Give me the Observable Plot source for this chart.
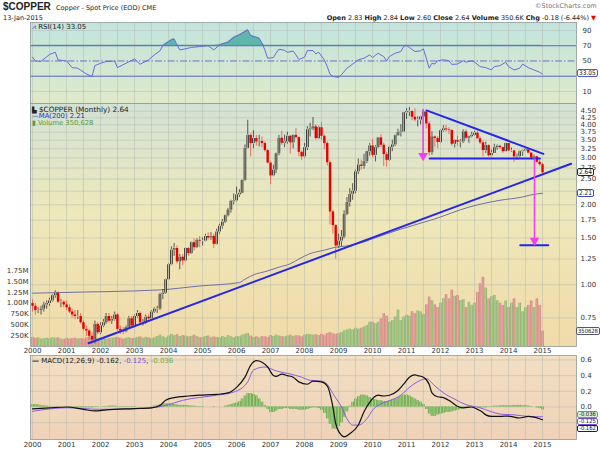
<!DOCTYPE html>
<html><head><meta charset="utf-8">
<script src="https://cdn.jsdelivr.net/npm/d3@7"></script>
<script src="https://cdn.jsdelivr.net/npm/@observablehq/plot@0.6"></script>
<style>
body{margin:0;background:#fff;}
#wrap{position:relative;width:600px;height:450px;overflow:hidden;font-family:"DejaVu Sans",sans-serif;font-size:7px;color:#222;}
#wrap svg.plotlayer{position:absolute;left:0;}
.txt{position:absolute;white-space:nowrap;line-height:1;}
.box{position:absolute;left:577px;font:6.5px "DejaVu Sans Condensed","DejaVu Sans",sans-serif;padding:0 1px;border:1px solid #444;background:#fff;border-radius:2px;line-height:6px;white-space:nowrap;}
</style></head>
<body>
<svg width="0" height="0" style="position:absolute">
<defs>
<linearGradient id="gRsi" x1="0" y1="0" x2="0" y2="1"><stop offset="0" stop-color="#c2e4de"/><stop offset="1" stop-color="#e0eac9"/></linearGradient>
<linearGradient id="gMain" x1="0" y1="0" x2="0" y2="1"><stop offset="0" stop-color="#d3e2d6"/><stop offset="0.45" stop-color="#eee8ba"/><stop offset="1" stop-color="#f1daa9"/></linearGradient>
<linearGradient id="gMacd" x1="0" y1="0" x2="0" y2="1"><stop offset="0" stop-color="#f2dfc3"/><stop offset="1" stop-color="#efd2b8"/></linearGradient>
</defs></svg>
<div id="wrap"></div>
<script>
// ---------- data (monthly, Jan 2000 .. Jan 2015) ----------
const firstOpen = 0.85;
const closes = [
 0.83,0.80,0.80,0.81,0.84,0.85,0.87,0.91,0.93,0.86,0.86,0.84,
 0.82,0.79,0.77,0.76,0.76,0.72,0.68,0.67,0.64,0.62,0.71,0.66,
 0.70,0.72,0.76,0.73,0.74,0.77,0.68,0.67,0.665,0.69,0.745,0.70,
 0.76,0.78,0.72,0.72,0.755,0.745,0.79,0.81,0.81,0.92,0.93,1.045,
 1.19,1.35,1.37,1.22,1.27,1.23,1.37,1.31,1.44,1.38,1.47,1.46,
 1.46,1.52,1.50,1.52,1.42,1.58,1.66,1.72,1.82,1.91,2.06,2.07,
 2.18,2.21,2.47,3.26,3.65,3.40,3.55,3.45,3.46,3.40,3.20,2.87,
 2.57,2.70,3.11,3.56,3.41,3.45,3.62,3.42,3.65,3.58,3.15,3.03,
 3.28,3.83,3.86,3.93,3.55,3.90,3.62,3.40,2.88,1.88,1.67,1.40,
 1.46,1.51,1.84,2.04,2.19,2.25,2.66,2.82,2.79,2.91,3.17,3.33,
 3.07,3.28,3.57,3.35,3.09,2.94,3.29,3.36,3.64,3.74,3.76,4.44,
 4.48,4.49,4.27,4.17,4.17,4.28,4.47,4.03,3.14,3.60,3.55,3.43,
 3.80,3.86,3.83,3.81,3.38,3.49,3.44,3.45,3.76,3.56,3.61,3.65,
 3.72,3.54,3.42,3.20,3.34,3.06,3.12,3.28,3.32,3.28,3.17,3.40,
 3.19,3.19,3.03,3.04,3.17,3.19,3.22,3.13,3.00,3.03,2.89,2.83,
 2.64];
const highs = [
 0.88,0.85,0.82,0.83,0.86,0.87,0.89,0.92,0.95,0.94,0.88,0.87,
 0.87,0.84,0.81,0.80,0.80,0.78,0.73,0.70,0.68,0.66,0.73,0.72,
 0.72,0.74,0.78,0.78,0.76,0.79,0.78,0.70,0.69,0.70,0.76,0.76,
 0.77,0.80,0.79,0.74,0.77,0.77,0.80,0.82,0.83,0.93,0.96,1.05,
 1.20,1.39,1.43,1.40,1.30,1.30,1.38,1.38,1.45,1.49,1.49,1.52,
 1.50,1.55,1.57,1.57,1.55,1.62,1.69,1.76,1.83,1.94,2.08,2.20,
 2.33,2.28,2.48,3.36,4.16,3.70,3.80,3.65,3.65,3.60,3.45,3.22,
 2.90,2.82,3.13,3.65,3.78,3.66,3.75,3.65,3.66,3.87,3.60,3.19,
 3.40,3.94,4.05,4.26,4.00,3.95,4.08,3.66,3.45,2.92,1.90,1.68,
 1.55,1.60,1.90,2.13,2.30,2.40,2.70,2.97,2.95,3.10,3.18,3.40,
 3.53,3.34,3.58,3.67,3.41,3.15,3.32,3.50,3.66,3.85,4.00,4.45,
 4.60,4.65,4.50,4.59,4.29,4.31,4.55,4.52,4.10,3.76,3.63,3.61,
 3.83,3.97,3.98,3.90,3.82,3.52,3.62,3.52,3.83,3.83,3.62,3.75,
 3.78,3.77,3.60,3.48,3.44,3.36,3.21,3.38,3.36,3.35,3.30,3.41,
 3.40,3.27,3.21,3.10,3.19,3.21,3.26,3.24,3.14,3.08,3.05,2.95,
 2.86];
const lows = [
 0.79,0.77,0.78,0.77,0.79,0.81,0.83,0.86,0.89,0.85,0.82,0.82,
 0.80,0.78,0.75,0.74,0.74,0.71,0.67,0.64,0.62,0.60,0.60,0.65,
 0.65,0.69,0.71,0.72,0.71,0.73,0.67,0.65,0.65,0.66,0.68,0.69,
 0.69,0.75,0.71,0.70,0.71,0.73,0.74,0.78,0.78,0.80,0.88,0.92,
 1.04,1.18,1.28,1.20,1.14,1.18,1.22,1.28,1.30,1.34,1.37,1.38,
 1.40,1.45,1.47,1.47,1.37,1.41,1.55,1.62,1.70,1.80,1.86,2.00,
 2.05,2.13,2.20,2.45,3.25,3.03,3.25,3.32,3.30,3.28,3.16,2.85,
 2.38,2.55,2.62,3.06,3.35,3.28,3.38,3.11,3.25,3.53,3.03,2.94,
 3.00,3.20,3.60,3.80,3.50,3.52,3.50,3.22,2.80,1.68,1.55,1.25,
 1.37,1.39,1.49,1.82,1.96,2.08,2.20,2.60,2.70,2.72,2.86,3.05,
 3.01,2.90,3.26,3.28,2.79,2.77,2.91,3.17,3.31,3.62,3.60,3.76,
 4.19,4.29,4.14,4.10,3.93,4.00,4.26,3.86,3.05,3.07,3.29,3.25,
 3.40,3.75,3.76,3.68,3.32,3.27,3.32,3.27,3.40,3.51,3.41,3.57,
 3.62,3.54,3.37,3.03,3.12,3.03,3.03,3.12,3.21,3.23,3.12,3.16,
 3.17,3.15,2.89,2.94,3.00,3.04,3.17,3.11,2.99,2.95,2.87,2.79,
 2.60];
const volumesK = [
 210,190,200,170,180,190,180,200,190,200,170,160,
 190,170,180,190,170,180,170,200,210,220,200,170,
 180,190,170,180,190,200,210,190,170,190,200,180,
 190,210,220,190,210,200,180,200,230,260,220,200,
 240,280,250,270,230,250,240,220,230,260,230,200,
 210,230,240,200,220,210,200,230,210,250,220,200,
 230,220,260,280,300,240,210,220,200,230,220,210,
 250,230,260,240,230,220,240,260,230,250,240,220,
 260,280,270,260,270,250,280,260,300,320,290,280,
 300,320,360,380,400,380,420,400,420,450,480,560,
 560,520,560,640,760,700,560,600,680,840,600,680,
 720,700,800,760,820,800,740,960,1140,1060,960,900,
 1000,1100,1200,1100,1300,1160,1180,1060,1080,900,1020,950,
 1000,1250,1450,1600,1350,1100,1150,1180,1060,1000,950,1050,
 900,1000,1100,900,1000,800,900,950,1050,900,1100,950,
 350.628];

// MA(200)
const maDates = ["2000-01","2000-10","2003-10","2004-12","2006-02","2006-04","2006-08","2006-11","2007-04","2007-08","2007-11","2008-03","2008-08","2008-12","2009-04","2009-10","2010-01","2010-11","2011-11","2012-11","2013-10","2014-06","2014-09","2015-01"];
const maVals  = [0.93,0.935,0.957,0.99,1.02,1.05,1.10,1.12,1.165,1.20,1.25,1.31,1.35,1.385,1.40,1.45,1.49,1.62,1.77,1.96,2.08,2.14,2.18,2.21];

// RSI(14)
const rsiDates = ["2000-01","2000-02","2000-04","2000-07","2000-09","2000-10","2001-01","2001-03","2001-05","2001-08","2001-10","2001-11","2002-01","2002-03","2002-06","2002-07","2002-10","2003-01","2003-03","2003-06","2003-08","2003-10","2003-11","2004-02","2004-03","2004-04","2004-05","2004-07","2004-09","2004-12","2005-03","2005-05","2005-07","2005-10","2005-12","2006-02","2006-05","2006-06","2006-09","2006-10","2006-11","2006-12","2007-02","2007-03","2007-04","2007-06","2007-07","2007-09","2007-10","2007-11","2008-01","2008-02","2008-04","2008-05","2008-06","2008-08","2008-09","2008-10","2008-11","2009-01","2009-02","2009-04","2009-06","2009-08","2009-10","2009-12","2010-01","2010-03","2010-05","2010-06","2010-07","2010-09","2010-11","2010-12","2011-01","2011-02","2011-04","2011-06","2011-07","2011-08","2011-09","2011-10","2011-11","2011-12","2012-02","2012-04","2012-05","2012-07","2012-09","2012-10","2012-12","2013-01","2013-03","2013-05","2013-07","2013-08","2013-10","2013-12","2014-01","2014-03","2014-05","2014-06","2014-08","2014-10","2014-12","2015-01"];
const rsiVals = [55,50,49.5,58.5,61.5,51.4,50,41.3,40.5,33,29.7,44,47,49.2,50,41.3,47,52.7,45.7,51.4,58,63.3,70.2,77.6,78.9,71,64.5,66,67.7,69,70,64.5,71,74.6,80.7,84.2,90.7,83.3,79.8,73.3,64.5,53.6,54.5,60.2,65.4,64,61.4,63.1,57.9,52,55,63.7,63.7,59.4,61.5,51.4,42.6,32.6,29.7,28.4,31.9,40.6,45.9,51.6,53.6,58,54.5,60.2,55.8,50.1,55.8,60.2,62.4,68.9,70.3,67.7,62.4,63.3,65.9,53.6,40.6,47,46,50.3,51.6,50.3,45.5,46,50.3,48.5,50.3,48.5,42.6,41.3,38.3,42.6,43.9,48.3,42.6,38.3,40.5,45.9,41.3,38.3,35.2,33.05];

// MACD(12,26,9)
const macdDates = ["2000-01","2000-07","2001-01","2001-07","2001-11","2002-03","2003-01","2003-07","2003-10","2003-12","2004-03","2004-08","2004-12","2005-06","2005-10","2006-01","2006-04","2006-06","2006-08","2006-10","2006-12","2007-02","2007-03","2007-05","2007-07","2007-09","2007-11","2008-02","2008-04","2008-07","2008-09","2008-11","2008-12","2009-02","2009-03","2009-05","2009-08","2009-10","2009-12","2010-03","2010-05","2010-07","2010-10","2010-12","2011-02","2011-04","2011-05","2011-07","2011-09","2011-10","2011-12","2012-02","2012-05","2012-07","2012-09","2012-12","2013-02","2013-04","2013-05","2013-07","2013-10","2014-01","2014-03","2014-05","2014-08","2014-10","2014-12","2015-01"];
const macdVals = [-0.023,-0.01,0.0,-0.03,-0.05,-0.036,-0.02,-0.01,0.02,0.085,0.12,0.14,0.15,0.16,0.18,0.25,0.38,0.53,0.59,0.57,0.51,0.40,0.39,0.42,0.40,0.38,0.32,0.29,0.33,0.32,0.27,0.0,-0.21,-0.36,-0.38,-0.34,-0.23,-0.06,0.06,0.15,0.14,0.15,0.21,0.29,0.38,0.41,0.40,0.38,0.29,0.18,0.13,0.12,0.06,0.01,-0.01,0.0,-0.03,-0.07,-0.10,-0.12,-0.12,-0.115,-0.13,-0.14,-0.12,-0.13,-0.15,-0.162];
const signalDates = ["2000-01","2001-01","2002-01","2003-07","2003-12","2004-06","2005-06","2005-12","2006-05","2006-07","2006-11","2007-03","2007-08","2007-12","2008-03","2008-07","2008-09","2008-11","2009-02","2009-04","2009-06","2009-08","2009-11","2010-01","2010-04","2010-07","2010-11","2011-02","2011-06","2011-08","2011-11","2012-02","2012-06","2012-10","2013-03","2013-07","2013-10","2014-03","2014-08","2015-01"];
const signalVals = [-0.055,-0.01,-0.03,-0.01,0.02,0.085,0.15,0.19,0.32,0.47,0.51,0.46,0.42,0.38,0.34,0.33,0.29,0.17,0.0,-0.15,-0.23,-0.23,-0.15,-0.04,0.04,0.08,0.15,0.25,0.34,0.36,0.27,0.18,0.10,0.03,-0.01,-0.06,-0.09,-0.10,-0.12,-0.125];
const histVals = [
 0.03,0.03,0.025,0.02,0.015,0.01,0.005,0.005,0.005,0.005,0,0,
 0,-0.005,-0.005,-0.01,-0.01,-0.01,-0.01,-0.01,-0.01,-0.01,-0.005,-0.005,
 0,0.005,0.005,0.01,0.01,0.01,0.005,0.005,0.005,0.005,0.005,0.005,
 0.005,0,0,0,0,0,0.005,0.01,0.02,0.03,0.035,0.04,
 0.04,0.035,0.03,0.025,0.02,0.02,0.02,0.015,0.01,0.01,0.005,0.005,
 0.005,0,0,0,-0.005,0,0,0,0.01,0.02,0.03,0.04,
 0.05,0.07,0.1,0.14,0.17,0.17,0.16,0.14,0.1,0.06,0.02,-0.03,
 -0.07,-0.07,-0.05,-0.03,-0.03,-0.02,-0.02,-0.03,-0.03,-0.03,-0.04,-0.04,
 -0.04,-0.03,-0.02,-0.01,-0.01,-0.02,-0.04,-0.08,-0.15,-0.22,-0.28,-0.28,
 -0.25,-0.2,-0.13,-0.06,0.01,0.06,0.1,0.13,0.15,0.15,0.14,0.12,
 0.1,0.09,0.08,0.08,0.07,0.07,0.08,0.09,0.1,0.12,0.14,0.15,
 0.15,0.14,0.12,0.1,0.08,0.06,0.03,-0.03,-0.09,-0.12,-0.12,-0.1,
 -0.09,-0.08,-0.07,-0.07,-0.06,-0.05,-0.04,-0.03,-0.02,-0.02,-0.01,0,
 0,-0.005,-0.01,-0.01,-0.01,-0.005,0.005,0.01,0.01,0.015,0.015,0.015,
 0.015,0.015,0.02,0.02,0.02,0.015,0.015,0.01,0.005,0,-0.01,-0.02,
 -0.036];

// drawn annotations (dates, prices)
const upTrendDates = ["2001-08-25","2015-11-04"], upTrendPrices = [0.603, 2.853];
const topLineDates = ["2011-08-04","2015-01-10"], topLinePrices = [4.53, 3.11];
const baseLineDates = ["2011-09-07","2014-12-04"], baseLinePrice = 2.99;
const targetDates = ["2014-05-07","2015-03-04"], targetPrice = 1.41;
const arrowDates = ["2011-06-28","2014-10-07"], arrowFrom = [4.56, 2.99], arrowTo = [2.98, 1.43];

const priceTicks = [0.75,1.00,1.25,1.50,1.75,2.00,2.25,2.50,2.75,3.00,3.25,3.50,3.75,4.00,4.25,4.50];
const priceLabels = [0.75,1.00,1.25,1.50,1.75,2.00,2.50,2.75,3.00,3.25,3.50,3.75,4.00,4.25,4.50];
const volTicks = [250e3,500e3,750e3,1e6,1.25e6,1.5e6,1.75e6];
const rsiGridTicks = [10,90];
const rsiLabels = [10,50,70,90];
const macdTicks = [-0.2,0,0.2,0.4,0.6];
const macdLabels = [0,0.2,0.4,0.6];
const yearTicks = d3.range(2000, 2016).map(y => new Date(Date.UTC(y, 0, 1)));

// ---------- build ----------
const ym = d3.utcParse("%Y-%m"), ymd = d3.utcParse("%Y-%m-%d");
const X0 = new Date(Date.UTC(1999, 11, 10)), X1 = new Date(Date.UTC(2016, 0, 1));
const gridX = d3.utcMonth.every(6).range(new Date(Date.UTC(2000,0,1)), X1);
const candles = closes.map((c, i) => {
  const open = i ? closes[i - 1] : firstOpen;
  return {date: new Date(Date.UTC(2000, i, 1)), open, close: c, high: highs[i], low: lows[i], vol: volumesK[i] * 1000, up: c >= open};
});
const upC = candles.filter(d => d.up), dnC = candles.filter(d => !d.up);
const ma = maDates.map((d, i) => ({date: ym(d), v: maVals[i]}));
const rsi = rsiDates.map((d, i) => ({date: ym(d), v: rsiVals[i]}));
const macd = macdDates.map((d, i) => ({date: ym(d), v: macdVals[i]}));
const sig = signalDates.map((d, i) => ({date: ym(d), v: signalVals[i]}));
const hist = histVals.map((h, i) => ({date: new Date(Date.UTC(2000, i, 1)), h}));
const upTrend = upTrendDates.map((d, i) => ({date: ymd(d), p: upTrendPrices[i]}));
const topLine = topLineDates.map((d, i) => ({date: ymd(d), p: topLinePrices[i]}));
const baseLine = baseLineDates.map(d => ({date: ymd(d), p: baseLinePrice}));
const target = targetDates.map(d => ({date: ymd(d), p: targetPrice}));
const arrows = arrowDates.map((d, i) => ({date: ymd(d), from: arrowFrom[i], to: arrowTo[i]}));

const FONT = "DejaVu Sans, sans-serif";
const common = {
  width: 600, marginLeft: 30, marginRight: 24,
  style: {background: "transparent", fontFamily: FONT, fontSize: "7px", color: "#333", overflow: "visible"}
};
const xOpt = {type: "utc", domain: [X0, X1]};
const grid = {stroke: "#aeb6ae", strokeOpacity: 0.75, strokeWidth: 0.6};
const frameStroke = Plot.frame({stroke: "#8f9a96", strokeWidth: 0.8});

const wrap = document.getElementById("wrap");
function place(svg, top) { svg.classList.add("plotlayer"); svg.style.top = top + "px"; wrap.appendChild(svg); return svg; }

// RSI panel
const rsiPlot = place(Plot.plot({...common, height: 83, marginTop: 2, marginBottom: 0,
  x: {...xOpt, axis: null}, y: {domain: [-5.8, 100.5]},
  marks: [
    Plot.frame({fill: "url(#gRsi)"}),
    Plot.ruleX(gridX, grid),
    Plot.ruleY(rsiGridTicks, grid),
    Plot.areaY(rsi, {x: "date", y1: 70, y2: d => Math.max(70, d.v), fill: "#5fb7ac", stroke: "#4a9a90", strokeWidth: 0.5}),
    Plot.areaY(rsi, {x: "date", y1: d => Math.min(30, d.v), y2: 30, fill: "#5fb7ac"}),
    Plot.ruleY([70, 30], {stroke: "#5a66c4", strokeWidth: 1}),
    Plot.ruleY([50], {stroke: "#5a66c4", strokeWidth: 0.9, strokeDasharray: "7,2,1.5,2"}),
    Plot.line(rsi, {x: "date", y: "v", stroke: "#6a6ae0", strokeWidth: 1}),
    Plot.axisY({anchor: "right", ticks: rsiLabels, tickSize: 0, tickPadding: 6, label: null}),
    frameStroke
  ]}), 20);

// Volume layer (under price)
const volPlot = place(Plot.plot({...common, height: 254, marginTop: 2, marginBottom: 9,
  x: {...xOpt, axis: null}, y: {domain: [0, 5.617e6]},
  marks: [
    Plot.frame({fill: "url(#gMain)"}),
    Plot.ruleX(candles, {x: "date", y1: 0, y2: "vol", stroke: d => d.up ? "#7fae68" : "#cf7d7d", strokeWidth: 2.6, strokeOpacity: 0.9}),
    Plot.ruleX(candles, {x: "date", y1: 0, y2: "vol", stroke: d => d.up ? "#acd08f" : "#eaa5a5", strokeWidth: 1.1, insetTop: 0.7}),
    Plot.axisY({anchor: "left", ticks: volTicks, tickSize: 0, tickPadding: 2, label: null,
      tickFormat: v => v >= 1e6 ? (v / 1e6).toFixed(2) + "M" : (v / 1e3) + "K"})
  ]}), 101);

// Price layer
const mainPlot = place(Plot.plot({...common, height: 254, marginTop: 2, marginBottom: 9,
  x: xOpt, y: {type: "log", domain: [0.586, 4.81]},
  marks: [
    Plot.ruleX(gridX, grid),
    Plot.ruleY(priceTicks, grid),
    Plot.line(ma, {x: "date", y: "v", stroke: "#6f70a8", strokeWidth: 1, curve: "monotone-x"}),
    Plot.ruleX(candles, {x: "date", y1: "low", y2: "high", stroke: d => d.up ? "#333" : "#e8504a", strokeWidth: 0.8}),
    Plot.ruleX(dnC, {x: "date", y1: "open", y2: "close", stroke: "#e80000", strokeWidth: 2.4}),
    Plot.ruleX(upC, {x: "date", y1: "open", y2: "close", stroke: "#222", strokeWidth: 2.6}),
    Plot.ruleX(upC, {x: "date", y1: "open", y2: "close", stroke: "#cfd0bd", strokeWidth: 0.9, insetTop: 0.7, insetBottom: 0.7}),
    Plot.line(upTrend, {x: "date", y: "p", stroke: "#2626e8", strokeWidth: 2}),
    Plot.line(topLine, {x: "date", y: "p", stroke: "#2626e8", strokeWidth: 2}),
    Plot.line(baseLine, {x: "date", y: "p", stroke: "#2626e8", strokeWidth: 2}),
    Plot.line(target, {x: "date", y: "p", stroke: "#2626e8", strokeWidth: 2}),
    Plot.ruleX(arrows, {x: "date", y1: "from", y2: "to", stroke: "#f040f0", strokeWidth: 1.6, insetBottom: 4}),
    Plot.dot(arrows, {x: "date", y: "to", symbol: "triangle", rotate: 180, r: 3.6, fill: "#f040f0", stroke: "none", dy: -3}),
    Plot.axisY({anchor: "right", ticks: priceLabels, tickFormat: ".2f", tickSize: 0, tickPadding: 4, label: null}),
    Plot.axisX({ticks: yearTicks, tickFormat: "%Y", tickSize: 0, tickPadding: 2, label: null}),
    frameStroke
  ]}), 101);

// MACD panel
const macdPlot = place(Plot.plot({...common, height: 97, marginTop: 2, marginBottom: 11,
  x: xOpt, y: {domain: [-0.414, 0.656]},
  marks: [
    Plot.frame({fill: "url(#gMacd)"}),
    Plot.ruleX(gridX, grid),
    Plot.ruleY(macdTicks, grid),
    Plot.ruleX(hist, {x: "date", y1: 0, y2: "h", stroke: "#63a449", strokeWidth: 2.6}),
    Plot.ruleX(hist, {x: "date", y1: 0, y2: "h", stroke: "#a3d383", strokeWidth: 1.1}),
    Plot.line(sig, {x: "date", y: "v", stroke: "#8a5de4", strokeWidth: 1, curve: "monotone-x"}),
    Plot.line(macd, {x: "date", y: "v", stroke: "#111", strokeWidth: 1.2, curve: "monotone-x"}),
    Plot.axisY({anchor: "right", ticks: macdLabels, tickFormat: ".1f", tickSize: 0, tickPadding: 4, label: null}),
    Plot.axisX({ticks: yearTicks, tickFormat: "%Y", tickSize: 0, tickPadding: 3, label: null}),
    frameStroke
  ]}), 353);

// ---------- text overlays ----------
function txt(html, left, top, style = "") {
  const d = document.createElement("div"); d.className = "txt";
  d.style.left = left + "px"; d.style.top = top + "px"; d.style.cssText += style;
  d.innerHTML = html; wrap.appendChild(d); return d;
}
function boxAt(label, top, style = "") {
  const d = document.createElement("div"); d.className = "box";
  d.style.top = top + "px"; d.style.cssText += style; d.textContent = label; wrap.appendChild(d);
}
function box(label, plot, value, top0, nudge = 0, style = "") {
  boxAt(label, top0 + plot.scale("y").apply(value) - 4 + nudge, style);
}
txt('$COPPER', 3, 2, 'font:bold 10px Liberation Sans,sans-serif;line-height:1;');
txt('Copper - Spot Price (EOD) CME', 56, 4.5, 'font:6.5px DejaVu Sans,sans-serif;line-height:1;');
txt('13-Jan-2015', 3, 15, 'font:6.5px DejaVu Sans,sans-serif;line-height:1;');
txt('©StockCharts.com', 535, 3, 'font:6.5px DejaVu Sans,sans-serif;color:#777;line-height:1;');
txt('<b>Open</b> 2.83 <b>High</b> 2.84 <b>Low</b> 2.60 <b>Close</b> 2.64 <b>Volume</b> 350.6K <b>Chg</b> -0.18 (-6.44%) <span style="color:#e00">▼</span>',
    0, 14.5, 'font:6.5px DejaVu Sans,sans-serif;line-height:1;right:4px;left:auto;');
txt('<span style="color:#3a3ad0">⩘</span> RSI(14) 33.05', 32, 24, 'font:7px DejaVu Sans,sans-serif;line-height:1;');
txt('<span style="font-size:6px">▙</span> $COPPER (Monthly) 2.64', 32, 105.5, 'font:7.3px DejaVu Sans,sans-serif;line-height:1;');
txt('<span style="color:#3030b0">—MA(200) 2.21</span>', 32, 113, 'font:6.8px DejaVu Sans,sans-serif;line-height:1;');
txt('<span style="color:#5a9a3a">▮ Volume 350,628</span>', 32, 120, 'font:6.8px DejaVu Sans,sans-serif;line-height:1;');
txt('<b>—</b> MACD(12,26,9) -0.162, <span style="color:#7a50d8">-0.125</span>, <span style="color:#6aaa4a">-0.036</span>', 32, 358, 'font:7px DejaVu Sans,sans-serif;line-height:1;');

box("33.05", rsiPlot, 33.05, 20, 0, "border-color:#4a5ad0;");
box("2.64", mainPlot, 2.64, 101, 0, "border-color:#222;");
box("2.21", mainPlot, 2.21, 101, 0, "border-color:#3a46c8;");
box("350628", volPlot, 350628, 101, 0, "border-color:#557;font-size:5.8px;left:576px;");
// MACD value boxes, stacked just below the 0.0 label
const m0 = 353 + macdPlot.scale("y").apply(0);
boxAt("-0.036", m0 + 4.5, "border-color:#6aa84f;background:#dff0d0;font-size:5.8px;line-height:5px;");
boxAt("-0.125", m0 + 11.5, "border-color:#7a50d8;font-size:5.8px;line-height:5px;");
boxAt("-0.162", m0 + 18.5, "border-color:#222;font-size:5.8px;line-height:5px;");
</script>
</body></html>
